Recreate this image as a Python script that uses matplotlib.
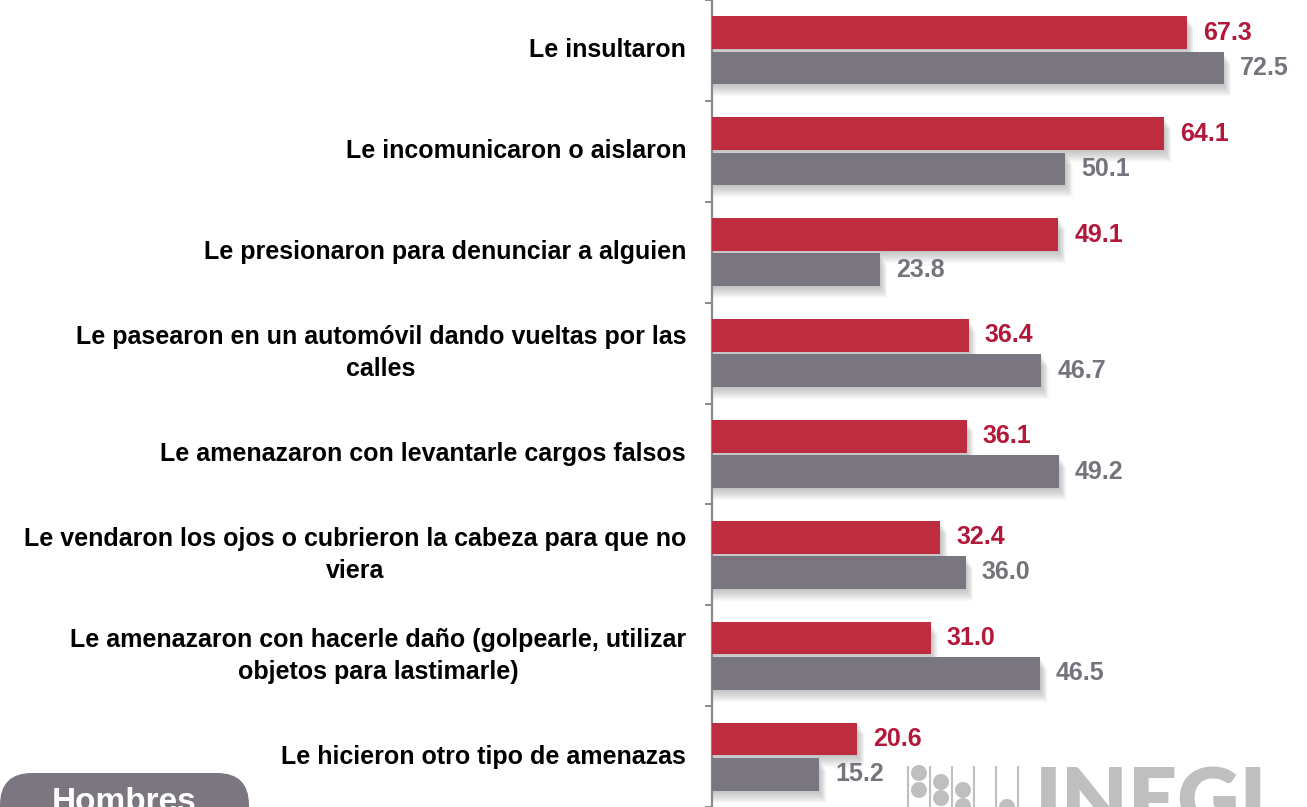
import matplotlib
matplotlib.use("Agg")
import matplotlib.pyplot as plt
from matplotlib.patches import Rectangle, FancyBboxPatch, Circle
from matplotlib.transforms import blended_transform_factory, IdentityTransform
from matplotlib.lines import Line2D

# Datos
categorias = [
    "Le insultaron",
    "Le incomunicaron o aislaron",
    "Le presionaron para denunciar a alguien",
    "Le pasearon en un automóvil dando vueltas por las\ncalles",
    "Le amenazaron con levantarle cargos falsos",
    "Le vendaron los ojos o cubrieron la cabeza para que no\nviera",
    "Le amenazaron con hacerle daño (golpearle, utilizar\nobjetos para lastimarle)",
    "Le hicieron otro tipo de amenazas",
]
serie_roja = [67.3, 64.1, 49.1, 36.4, 36.1, 32.4, 31.0, 20.6]
serie_gris = [72.5, 50.1, 23.8, 46.7, 49.2, 36.0, 46.5, 15.2]

ROJO = "#BE2C3F"
GRIS = "#7A7680"
ROJO_TXT = "#B3173A"
GRIS_TXT = "#77737D"
FUENTE = "Liberation Sans"

W, H = 1307, 807
fig = plt.figure(figsize=(W / 100, H / 100), dpi=100)
x0 = 711.7
ax = fig.add_axes([x0 / W, 0, 1 - x0 / W, 1])

px_x = 7.06      # pixeles por unidad
px_y = 101.33    # pixeles por categoria
ax.set_xlim(0, (W - x0) / px_x)
ax.set_ylim((H - 48) / px_y, -48 / px_y)

alto = 33 / px_y
desp = 17.7 / px_y
n = len(categorias)

for i in range(n):
    for val, dy, col in ((serie_roja[i], -desp, ROJO), (serie_gris[i], desp, GRIS)):
        yc = i + dy
        # sombra difusa
        for d in range(1, 13):
            ax.add_patch(Rectangle((0, yc - alto / 2 + d / px_y), val + d * 0.6 / px_x, alto,
                                   facecolor="#7f7f7f", alpha=0.045, lw=0, zorder=2))
        ax.barh(yc, val, height=alto, color=col, zorder=3)

    ax.text(serie_roja[i] + 16 / px_x, i - desp, f"{serie_roja[i]:.1f}", color=ROJO_TXT,
            fontsize=18, fontweight="bold", family=FUENTE, va="center", ha="left", zorder=4)
    ax.text(serie_gris[i] + 16 / px_x, i + desp, f"{serie_gris[i]:.1f}", color=GRIS_TXT,
            fontsize=18, fontweight="bold", family=FUENTE, va="center", ha="left", zorder=4)

# etiquetas de categoria
tr = blended_transform_factory(fig.transFigure, ax.transData)
for i, cat in enumerate(categorias):
    fig.text(686 / W, i, cat, transform=tr, ha="right", va="center", multialignment="center",
             fontsize=18, fontweight="bold", family=FUENTE, color="black", linespacing=1.42)

# ejes
for s in ("top", "right", "bottom"):
    ax.spines[s].set_visible(False)
ax.spines["left"].set_color("#8a8a8a")
ax.spines["left"].set_linewidth(1.6)
ax.set_xticks([])
ax.set_yticks([i + 0.5 for i in range(-1, n)])
ax.set_yticklabels([])
ax.tick_params(axis="y", length=5, width=1.4, color="#8a8a8a", direction="out")
ax.set_facecolor("none")

# recuadro "Hombres"
caja = FancyBboxPatch((0, -40), 249, 74, boxstyle="round,pad=0,rounding_size=32",
                      transform=IdentityTransform(), facecolor="#7B7680", edgecolor="none")
fig.patches.append(caja)
fig.text(124, -4, "Hombres", transform=IdentityTransform(), ha="center", va="baseline",
         color="white", fontsize=24, fontweight="bold", family=FUENTE)

# logotipo
gris_logo = "#BFBFBF"
for xl in (908, 930, 952, 974, 996, 1018):
    fig.lines.append(Line2D([xl, xl], [H - 767, -5], transform=IdentityTransform(),
                            color=gris_logo, lw=1.5))
for cx, cy in ((919, 773), (919, 790), (941, 782), (941, 798), (963, 790), (963, 806),
               (984, 815), (1007, 807)):
    fig.patches.append(Circle((cx, H - cy), 8, transform=IdentityTransform(),
                              facecolor=gris_logo, edgecolor="none"))
fig.text(1035, H - 765, "INEGI", transform=IdentityTransform(), ha="left", va="top",
         color=gris_logo, fontsize=62, fontweight="heavy", family="Lato")

fig.savefig("out.png", dpi=100)
